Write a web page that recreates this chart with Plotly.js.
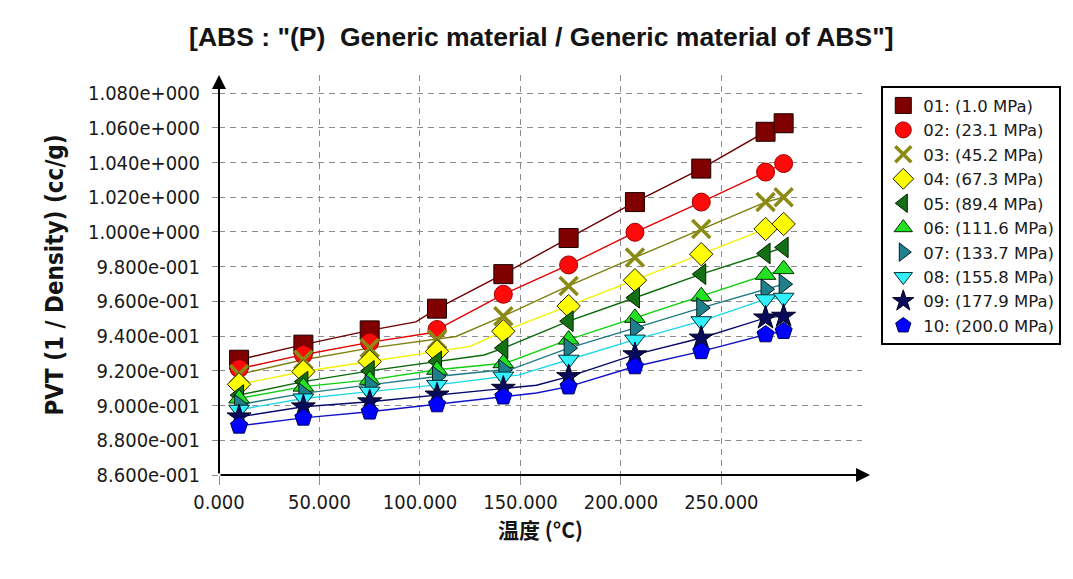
<!DOCTYPE html>
<html>
<head>
<meta charset="utf-8">
<script src="https://cdn.plot.ly/plotly-3.0.1.min.js"></script>
<style>
  html, body { margin: 0; padding: 0; background: #ffffff; }
  #chart { width: 1073px; height: 579px; }
</style>
</head>
<body>
<div id="chart"></div>
<script>
// ---- data ----
const temps = [10, 42, 75, 108.5, 141.5, 174, 207, 240, 272, 281];

const seriesNames = [
  "01: (1.0 MPa)", "02: (23.1 MPa)", "03: (45.2 MPa)", "04: (67.3 MPa)", "05: (89.4 MPa)",
  "06: (111.6 MPa)", "07: (133.7 MPa)", "08: (155.8 MPa)", "09: (177.9 MPa)", "10: (200.0 MPa)"
];

const s01 = [0.9264, 0.9351, 0.9433, 0.9558, 0.9757, 0.9965, 1.0172, 1.0365, 1.0577, 1.0626];
const s02 = [0.9212, 0.9293, 0.9364, 0.9438, 0.9641, 0.9810, 0.9998, 1.0172, 1.0345, 1.0394];
const s03 = [0.9180, 0.9264, 0.9331, 0.9380, 0.9515, 0.9689, 0.9853, 1.0017, 1.0172, 1.0200];
const s04 = [0.9122, 0.9196, 0.9254, 0.9312, 0.9428, 0.9573, 0.9722, 0.9872, 1.0017, 1.0046];
const s05 = [0.9060, 0.9138, 0.9200, 0.9254, 0.9331, 0.9486, 0.9621, 0.9757, 0.9876, 0.9911];
const s06 = [0.9041, 0.9109, 0.9148, 0.9206, 0.9244, 0.9380, 0.9505, 0.9630, 0.9753, 0.9786];
const s07 = [0.9005, 0.9070, 0.9119, 0.9167, 0.9206, 0.9331, 0.9447, 0.9563, 0.9670, 0.9699];
const s08 = [0.8976, 0.9041, 0.9080, 0.9119, 0.9167, 0.9264, 0.9380, 0.9486, 0.9612, 0.9621];
const s09 = [0.8935, 0.8993, 0.9022, 0.9061, 0.9100, 0.9167, 0.9293, 0.9389, 0.9505, 0.9515];
const s10 = [0.8883, 0.8929, 0.8964, 0.9006, 0.9051, 0.9109, 0.9225, 0.9312, 0.9409, 0.9428];

// bend (glass transition) of each curve
const bendT = [98, 105, 118, 125, 132, 143, 146, 149, 158, 158];
const bendV = [0.9482, 0.9418, 0.9398, 0.9341, 0.9291, 0.9246, 0.9211, 0.9175, 0.9117, 0.9072];

const yTickVals = [0.86, 0.88, 0.90, 0.92, 0.94, 0.96, 0.98, 1.00, 1.02, 1.04, 1.06, 1.08];
const yTickText = ["8.600e-001", "8.800e-001", "9.000e-001", "9.200e-001", "9.400e-001", "9.600e-001",
                   "9.800e-001", "1.000e+000", "1.020e+000", "1.040e+000", "1.060e+000", "1.080e+000"];
const xTickVals = [0, 50, 100, 150, 200, 250];
const xTickText = ["0.000", "50.000", "100.000", "150.000", "200.000", "250.000"];

const allSeries = [s01, s02, s03, s04, s05, s06, s07, s08, s09, s10];

// ---- styles ----
const styles = [
  {line: "#6e0000", fill: "#800000", edge: "#1a0000", symbol: "square", size: 19, lw: 1},
  {line: "#e00000", fill: "#ff0a0a", edge: "#a00000", symbol: "circle", size: 18, lw: 1},
  {line: "#7f7f10", fill: "#8a8a14", edge: "#8a8a14", symbol: "x-thin-open", size: 18, lw: 3.5},
  {line: "#f2f200", fill: "#ffff00", edge: "#202000", symbol: "diamond", size: 18, lw: 1},
  {line: "#0a6a0a", fill: "#157015", edge: "#002000", symbol: "triangle-left", size: 18, lw: 1},
  {line: "#10d010", fill: "#22e022", edge: "#003000", symbol: "triangle-up", size: 18, lw: 1},
  {line: "#207a85", fill: "#1f7f8a", edge: "#002020", symbol: "triangle-right", size: 18, lw: 1},
  {line: "#20d8e8", fill: "#33f0ff", edge: "#003030", symbol: "triangle-down", size: 18, lw: 1},
  {line: "#08086a", fill: "#0a0a5a", edge: "#000020", symbol: "star", size: 18, lw: 1},
  {line: "#1010c8", fill: "#0000ff", edge: "#000060", symbol: "pentagon", size: 18, lw: 1}
];

const traces = [];
// curves (with their bend point)
allSeries.forEach(function (vals, i) {
  const pts = temps.map(function (t, k) { return [t, vals[k]]; });
  pts.push([bendT[i], bendV[i]]);
  pts.sort(function (a, b) { return a[0] - b[0]; });
  traces.push({
    type: "scatter", mode: "lines",
    x: pts.map(function (p) { return p[0]; }),
    y: pts.map(function (p) { return p[1]; }),
    line: {color: styles[i].line, width: 1.4},
    showlegend: false, hoverinfo: "skip", cliponaxis: false
  });
});
// markers (legend entries)
allSeries.forEach(function (vals, i) {
  const st = styles[i];
  traces.push({
    type: "scatter", mode: "markers",
    name: seriesNames[i],
    x: temps, y: vals,
    marker: {symbol: st.symbol, size: st.size, color: st.fill,
             line: {color: st.edge, width: st.lw}},
    cliponaxis: false
  });
});

const tickFont = {family: "DejaVu Sans Condensed, DejaVu Sans, sans-serif", size: 20, color: "#1a1a1a"};

const layout = {
  width: 1073, height: 579,
  paper_bgcolor: "#ffffff", plot_bgcolor: "#ffffff",
  margin: {l: 218.5, r: 197, t: 75, b: 104, pad: 0},
  title: {
    text: "[ABS : \"(P)  Generic material / Generic material of ABS\"]",
    font: {family: "Liberation Sans, Arial, sans-serif",
           size: 26.5, color: "#141414", weight: "bold"},
    x: 0.5045, xanchor: "center", xref: "container",
    y: 0.936, yanchor: "middle", yref: "container"
  },
  xaxis: {
    range: [0, 320], autorange: false,
    tickvals: xTickVals, ticktext: xTickText,
    tickfont: tickFont,
    ticks: "outside", ticklen: 9, tickcolor: "#8c8c8c", tickwidth: 1,
    ticklabelstandoff: 0,
    showgrid: true, gridcolor: "#8c8c8c", griddash: "6px,5px", gridwidth: 1,
    zeroline: false, showline: false,
    title: {text: "温度 (°C)", standoff: 1,
            font: {family: "Noto Sans CJK SC, Liberation Sans, sans-serif", size: 21,
                   color: "#141414", weight: "bold"}}
  },
  yaxis: {
    range: [0.86, 1.0904], autorange: false,
    tickvals: yTickVals, ticktext: yTickText,
    tickfont: tickFont,
    ticks: "outside", ticklen: 6, tickcolor: "#8c8c8c", tickwidth: 1,
    ticklabelstandoff: 8,
    showgrid: true, gridcolor: "#8c8c8c", griddash: "6px,5px", gridwidth: 1,
    zeroline: false, showline: false,
    title: {text: "PVT (1 / Density) (cc/g)", standoff: 17,
            font: {family: "DejaVu Sans Condensed, DejaVu Sans, sans-serif", size: 24,
                   color: "#141414", weight: "bold"}}
  },
  legend: {
    x: 1.03, xanchor: "left", y: 0.972, yanchor: "top",
    bgcolor: "#ffffff", bordercolor: "#000000", borderwidth: 2,
    font: {family: "DejaVu Sans, sans-serif", size: 16.5, color: "#1a1a1a"},
    itemwidth: 30, tracegroupgap: 0
  },
  annotations: [
    {xref: "x", yref: "y", axref: "x", ayref: "y", x: 0, y: 1.0904, ax: 0, ay: 0.86,
     text: "", showarrow: true, arrowhead: 2, arrowsize: 1.4, arrowwidth: 2, arrowcolor: "#000000",
     standoff: 0, startstandoff: 0},
    {xref: "x", yref: "y", axref: "x", ayref: "y", x: 324, y: 0.86, ax: 0, ay: 0.86,
     text: "", showarrow: true, arrowhead: 2, arrowsize: 1.4, arrowwidth: 2, arrowcolor: "#000000",
     standoff: 0, startstandoff: 0}
  ],
  showlegend: true
};

Plotly.newPlot("chart", traces, layout, {displayModeBar: false, staticPlot: true});
</script>
</body>
</html>
